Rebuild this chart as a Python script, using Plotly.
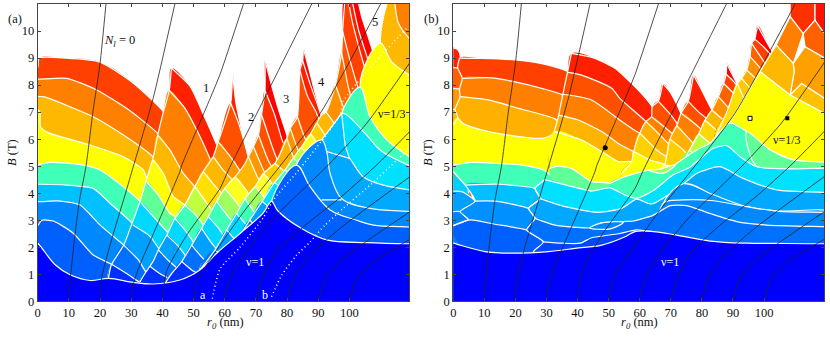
import plotly.graph_objects as go

# colour levels used by the bands
BLUE = "#0000ff"
C30, C48, C60, C70, C88, CA0, CA8 = "#0030ff", "#0048ff", "#0060ff", "#0070ff", "#0088ff", "#00a0ff", "#00a8ff"
CC0, CD8, CE0 = "#00c0ff", "#00d8ff", "#00e0ff"
TEAL, GREEN, LIME, YLIME = "#40ffb8", "#60ff98", "#a0ff60", "#c0ff40"
YEL, YEL2, AMB0, AMB, AMB2 = "#ffff00", "#ffe000", "#ffd000", "#ffb800", "#ff9800"
ORG, ORG2, RED4, RED3, RED2, RED1 = "#ff8000", "#ff6000", "#ff4000", "#ff3000", "#ff2000", "#ff0000"

# Landau level lines N_l, same in both panels (r0 nm, B T)
NL_10 = [(10, 0), (10.2, 0.5), (10.6, 1), (12, 2.5), (13.5, 3.8), (15.5, 5), (17.7, 7), (20, 8.8), (21.9, 11)]
NL_20 = [(20, 0), (20.5, 0.85), (23.5, 2.2), (28, 3.93), (30.7, 5), (37, 7.5), (44, 11)]
NL_30 = [(30, 0), (30.6, 0.6), (32.8, 1.35), (37, 2.47), (45.6, 4.8), (46.1, 5), (55.3, 7.5), (58.5, 8.4), (66, 11)]
NL_40 = [(40, 0), (41.3, 1.1), (47.8, 2.45), (58.5, 4.18), (61.2, 4.86), (74, 7.8), (87.9, 11)]
NL_50 = [(50, 0), (51, 0.73), (54.2, 1.35), (58.5, 2.08), (66, 3.3), (77.7, 5), (90.6, 6.95), (110, 11)]
NL_60 = [(59.8, 0), (61.7, 0.85), (66, 1.71), (75.6, 3.07), (93.2, 5.04), (105.5, 6.58), (119.5, 8.85)]
NL_70 = [(70, 0), (71.9, 0.85), (76.7, 1.84), (85.7, 2.8), (98, 3.93), (108.7, 5.04), (119.5, 6.3)]
NL_80 = [(80, 0), (82, 0.85), (87.4, 1.71), (97, 2.7), (119.5, 4.62)]
NL_90 = [(90, 0), (92.2, 0.85), (98, 1.59), (119.5, 3.32)]
NL_100 = [(100, 0), (102.3, 0.85), (107.6, 1.46), (119.5, 2.3)]
NL_LINES = [NL_10, NL_20, NL_30, NL_40, NL_50, NL_60, NL_70, NL_80, NL_90, NL_100]

DOTS_A = [(56, 0.1), (58.5, 1.2), (64.9, 2), (72.4, 3.1), (75.6, 3.75), (84.2, 4.92), (97, 6.9), (98, 7.4),
          (105.5, 8.5), (118.3, 10.1)]
DOTS_B = [(75, 0.17), (78.3, 0.97), (83, 1.7), (87.4, 2.2), (92, 2.8), (98, 3.44), (106.6, 4.3), (115, 5.2),
          (119.5, 5.7)]

# panel (a), lobes left to right: edge = left border, curves = top of each band
A_L0_EDGE = [(-2, 12), (-2, -1)]
A_L0_COLORS = [RED4, ORG, AMB, YEL, TEAL, CC0, C88, C60]
A_L0_CURVES = [
    [(-1, 8.6), (0, 8.65), (0.5, 9), (9, 9), (20, 8.85), (30.7, 8.07), (40.3, 7.02), (43, 6.5)],
    [(-1, 8.22), (0.7, 8.22), (9.3, 8.25), (18.9, 7.82), (28.5, 7.14), (38.4, 6.22), (42, 5.6)],
    [(-1, 7.57), (1.8, 7.57), (10.3, 7.2), (17.8, 6.83), (27.5, 6.15), (36.9, 5.35), (38, 5.1)],
    [(-1, 7.2), (0.7, 7), (0.9, 6.46), (3.4, 6.24), (16.8, 5.78), (27.5, 5.35), (33.9, 4.86), (35, 4.55), (37, 4.2)],
    [(-1, 5), (0, 5.04), (3.9, 5.14), (14.6, 5.04), (20, 4.86), (25.3, 4.43), (32.8, 3.69), (35, 3.3)],
    [(-1, 4.33), (1.3, 4.33), (9.3, 4.3), (17.8, 4.18), (23.2, 3.63), (30.7, 2.85), (33, 2.5)],
    [(-1, 3.69), (1.3, 3.69), (7.1, 3.71), (13.6, 3.56), (20, 2.82), (27.6, 2.08), (30, 1.8)],
    [(-1, 2.8), (0, 2.8), (1.3, 3), (5, 2.97), (11.4, 2.52), (17.8, 1.71), (23.7, 1.37), (26, 1.2)],
]

A_L1_EDGE = [(42.9, 8.63), (42.2, 7.8), (40.3, 7), (38.5, 6.15), (37, 5.3), (35, 4.55), (32.8, 3.69), (30, 2.8),
             (27.6, 2.08), (23.6, 1.34), (22.7, 0.85)]
A_L1_COLORS = [RED2, ORG, AMB, YEL, GREEN, CD8, CA0, C70, C30]
A_L1_CURVES = [
    [(42.9, 8.63), (48.9, 7.95), (53, 6.96), (57.4, 5.79), (60, 5)],
    [(42.2, 7.8), (47.2, 7.15), (51.2, 6.3), (55, 5.35), (57, 4.8)],
    [(38.5, 6.15), (42.4, 5.6), (46.7, 4.73), (50.4, 4.24), (52, 3.9)],
    [(37, 5.23), (40.3, 4.73), (43.5, 3.87), (47.2, 3.56), (49, 3.2)],
    [(34.9, 4.43), (38.7, 3.93), (42.4, 3.25), (45.1, 3.07), (47, 2.7)],
    [(33.3, 3.62), (38.1, 3), (41.9, 2.52), (44.6, 2)],
    [(30.5, 2.82), (36, 2.4), (40, 1.75), (43, 1.3)],
    [(27.6, 2.08), (32.3, 1.53), (35, 1.03), (36.5, 0.9)],
    [(23.7, 1.37), (28.5, 1.03), (32.3, 0.73), (35, 0.6)],
]

A_L2_EDGE = [(62.5, 8.49), (61.9, 7.33), (57.9, 5.9), (56.3, 5.35), (53.1, 4.8), (50.4, 4.24), (47.2, 3.56), (44, 3.07),
             (41.4, 2.45), (38.7, 1.9), (37, 1.47), (34.4, 1.03), (32.8, 0.72)]
A_L2_COLORS = [RED2, "#ff5000", AMB2, AMB, YEL2, YLIME, TEAL, CD8, CA0, C70, C30]
A_L2_CURVES = [
    [(62.5, 8.49), (63.6, 7.33), (65.5, 6.3), (67.2, 5.41), (68, 5)],
    [(61.9, 7.33), (64.4, 6.6), (66.8, 5.66), (68, 5.1)],
    [(57.9, 5.9), (61.5, 5.4), (64.5, 4.9), (66, 4.6)],
    [(56.3, 5.35), (59.5, 4.85), (62.8, 4.45), (64, 4.1)],
    [(53.1, 4.8), (57, 4.25), (60, 3.85), (61, 3.6)],
    [(50.4, 4.24), (53.5, 3.75), (56.9, 3.2), (58, 3)],
    [(47.2, 3.56), (51, 3.15), (54, 2.65), (55, 2.4)],
    [(44, 3.07), (47.5, 2.6), (50.5, 2.1), (52, 1.9)],
    [(41.4, 2.45), (45, 2.05), (48, 1.6), (50, 1.35)],
    [(38.7, 1.9), (42, 1.5), (45, 1.2), (47, 1)],
    [(36, 1.3), (39.5, 1), (43, 0.8)],
]

A_L3_EDGE = [(72.9, 8.92), (72.9, 7.8), (71.8, 6.9), (70.8, 6.15), (69.2, 5.72), (67.6, 5.35), (66.5, 5.1), (63.3, 4.6),
             (60, 4.18), (57.4, 3.7), (54.7, 3.13), (52.6, 2.7), (49.4, 2.08), (46.2, 1.47), (43, 1.03), (40.8, 0.65)]
A_L3_COLORS = [RED1, RED3, "#ff5000", "#ff7000", AMB2, AMB, "#ffff20", LIME, TEAL, CD8, CA0, C70, C30]
A_L3_CURVES = [
    [(72.9, 8.92), (75, 8), (77.5, 7), (79.9, 6.15), (81, 5.6)],
    [(72.9, 7.8), (76, 6.9), (78.3, 6), (80.5, 5.4)],
    [(71.8, 6.9), (75.6, 5.6), (78, 4.9)],
    [(70.8, 6.15), (74, 5.2), (77, 4.6)],
    [(69.2, 5.72), (72.4, 4.86), (75, 4.3)],
    [(67.6, 5.35), (70.5, 4.6), (72.5, 4.2)],
    [(63.3, 4.6), (67, 4.1), (69.5, 3.6)],
    [(60, 4.18), (63.5, 3.7), (66, 3.3)],
    [(57.4, 3.7), (61, 3.15), (63.5, 2.8)],
    [(54.7, 3.13), (58, 2.7), (61, 2.2)],
    [(52.6, 2.7), (55.5, 2.2), (58, 1.85)],
    [(49.4, 2.08), (52.5, 1.65), (55, 1.35)],
    [(46.2, 1.47), (49.5, 1.15), (52, 1)],
]

A_L4_EDGE = [(85.2, 9.36), (85, 8.9), (84.1, 8.55), (83.3, 6.83), (81, 6.4), (79.9, 6.03), (76.1, 5.1), (72.4, 4.73),
             (69.7, 4.24), (66.5, 3.8), (63.8, 3.25), (60.6, 2.64), (56.9, 1.9), (52, 1.16)]
A_L4_COLORS = [RED1, RED2, "#ff5000", "#ff7000", "#ff9000", "#ffb000", AMB0, "#ffff30", LIME, TEAL, CD8, CA0, C70]
A_L4_CURVES = [
    [(85.2, 9.36), (87, 8.6), (89, 7.7), (91.1, 6.9), (93, 6.3)],
    [(85, 8.9), (87.5, 8), (90, 7.2), (92.5, 6.3)],
    [(84.1, 8.55), (86.5, 7.6), (89.5, 6.95), (92, 6)],
    [(83.3, 6.83), (85.5, 6.1), (87.5, 5.6)],
    [(81, 6.4), (83.5, 5.6), (85.5, 5.1)],
    [(79.9, 6.03), (82.5, 5.2), (84.5, 4.8)],
    [(76.1, 5.1), (80, 4.7), (81.5, 4.3)],
    [(72.4, 4.73), (76, 4.25), (78, 3.9)],
    [(69.7, 4.24), (73, 3.8), (75, 3.5)],
    [(66.5, 3.8), (69.5, 3.3), (71.5, 3.05)],
    [(63.8, 3.25), (67, 2.8), (69, 2.5)],
    [(60.6, 2.64), (63.5, 2.25), (66, 2)],
    [(56.9, 1.9), (60, 1.65), (63, 1.5)],
]

A_L5_EDGE = [(98.6, 11.2), (97.8, 10), (97.5, 9.2), (95.5, 8), (92.5, 7), (91.1, 6.9), (89.5, 6.6), (87.5, 6.2),
             (84.5, 5.7), (82, 5.3), (79.3, 4.86), (76, 4.4), (72, 3.7), (68, 3), (64, 2.3), (60, 1.7)]
A_L5_COLORS = [RED1, RED2, RED4, "#ff5800", "#ff7000", "#ff9000", AMB, AMB0, "#ffff20", YLIME, "#80ff80", TEAL, CE0,
               CA0, C70]
A_L5_CURVES = [
    [(98.6, 11.2), (102.2, 11.2), (104, 10.5), (107.6, 9.2), (109, 8.5)],
    [(100.7, 11.2), (103, 10), (105.5, 9.1), (108, 8.2)],
    [(99.5, 11.2), (101, 10.3), (103.5, 9.2), (106, 8.2)],
    [(97.8, 10), (100, 9), (102.5, 8), (104, 7.5)],
    [(97.5, 9.2), (99.5, 8), (101, 7.3)],
    [(95.5, 8), (98, 7.2), (100, 6.6)],
    [(92.5, 7), (95, 6.6), (97, 6)],
    [(89.5, 6.6), (93, 6), (95, 5.5)],
    [(87.5, 6.2), (91, 5.6), (93, 5.1)],
    [(84.5, 5.7), (88, 5.2), (91, 4.7)],
    [(82, 5.3), (85.5, 4.9), (88, 4.3)],
    [(79.3, 4.86), (83, 4.5), (86, 4)],
    [(76, 4.4), (80, 4), (83, 3.5)],
    [(72, 3.7), (76, 3.3), (80, 2.8)],
    [(68, 3), (72, 2.6), (76, 2.2)],
]

# panel (a), right side regions, painted in this order
A_R_ORANGE = [(114, 11.2), (122, 11.2), (122, 8), (113, 9)]
A_R_AMBER = [(113, 11.2), (114, 11.2), (115.7, 10.3), (119.2, 9.73), (122, 9.45), (122, 8), (113.5, 8.6), (110, 9.55)]
A_R_YELLOW = [(110, 9.55), (113.5, 8.87), (119.2, 8.37), (122, 8.15), (122, 4), (103.4, 7.92)]
A_R_TEAL = [(97.5, 6.95), (103.4, 7.92), (106.6, 6.83), (112, 5.97), (119.2, 5.35), (122, 5.15), (122, 4), (97.5, 5.5)]
A_R_CYAN = [(97.5, 6.95), (105.5, 6.15), (109.8, 5.6), (119.2, 5.02), (122, 4.9), (122, 3), (97, 3)]
A_R_A8 = [(92.7, 5.54), (99.1, 5.35), (100, 5.29), (104.5, 4.6), (110.9, 4.3), (119.2, 4.12), (122, 4.05), (122, 2.5),
          (93, 2.5)]
A_R_C0 = [(91.1, 5.97), (97.5, 6.95), (98.6, 5.78), (100, 5.29), (92.7, 5.54)]
A_R_88 = [(83, 5.04), (91.1, 5.97), (92.7, 5.54), (93.8, 4.73), (97.5, 3.8), (106.6, 3.44), (119.2, 3.32), (122, 3.28),
          (122, 1.5), (83, 1.5)]
A_R_INNER = [(91.1, 3.75), (97.5, 3.75)]
A_R_60 = [(75, 3.7), (83, 5.04), (87.4, 4.24), (93.8, 3.38), (102.3, 3), (107.7, 2.82), (119.2, 2.75), (122, 2.73),
          (122, 1.5), (75, 1.5)]
A_BLUE = [(-2, 2.3), (0, 2.15), (5.6, 1.35), (10.4, 0.98), (16.8, 0.77), (22.7, 0.85), (30.7, 0.7), (37, 0.64),
          (45.6, 0.79), (52, 1.16), (57.4, 1.78), (65, 2.52), (72.3, 3.26), (75, 3.7), (77, 3.35), (84.5, 2.7),
          (92.7, 2.27), (105.5, 2.17), (119.2, 2.13), (122, 2.13), (122, -1), (-2, -1)]

# panel (b), None marks a gap in the white border
B_L0_EDGE = [(-2, 12), (-2, -1)]
B_L0_COLORS = [RED2, ORG2, AMB2, "#ffc000", "#00d0ff", CA0, "#0080ff"]
B_L0_CURVES = [
    [(-2, 9.35), (1, 9.35), (2, 9.2), (2.5, 8.8)],
    [(-2, 8.63), (1.4, 8.63), (3, 8.4)],
    [(-2, 7.85), (2, 7.85), (3, 7.6)],
    [(-2, 7.1), (0.55, 7.1), (2, 6.9)],
    [(-2, 4.8), (0, 4.8), (3.8, 4.4), (5, 4)],
    [(-2, 4.06), (2.7, 4.06), (7, 3.71), (8, 3.4)],
    [(-2, 3.29), (2.2, 3.32), (4.8, 3.03), (6, 2.9)],
]

B_L1_EDGE = [(2, 9), (1.4, 8.65), (2.9, 8.25), (2, 7.85), (2.15, 7.55), (0.55, 7.1), (1.4, 6.8), (-1, 6.4), None,
             (0, 4.8), (3.8, 4.3), (7, 3.71), (2.2, 3.32), (4.8, 3.03), (0, 2.8), (-1, 2.7)]
B_L1_COLORS = [RED4, ORG, "#ffb000", YEL, TEAL, CC0, "#0090ff", C60]
B_L1_CURVES = [
    [(2, 9), (9.1, 8.99), (19.9, 8.93), (30.6, 8.74), (36.8, 8.5), (40, 8.2)],
    [(2.9, 8.25), (12.35, 8.27), (19.9, 8.12), (28.4, 7.88), (35.2, 7.63), (38, 7.3)],
    [(2.15, 7.57), (11.3, 7.45), (21, 7.14), (32.7, 6.75), (36, 6.4)],
    [(1.4, 6.8), (3.2, 6.58), (9.1, 6.34), (17.7, 6.15), (28.4, 6.03), (31.7, 6.15), (32.5, 6.28), (34.5, 6.1)],
    [(0, 5.04), (5.9, 5.14), (14.5, 5.1), (22, 5.04), (29, 4.86), (32, 4.6)],
    [(3.8, 4.3), (14.5, 4.33), (26.3, 4.18), (30, 3.9)],
    [(7, 3.71), (14, 3.7), (24.2, 3.44), (28, 3.2)],
    [(0, 2.8), (5.4, 3.01), (13.4, 2.85), (23.6, 2.64), (28, 2.3)],
]

B_L2_EDGE = [(38, 9.17), (36.8, 8.5), (35.2, 7.63), (33.8, 6.83), (32.5, 6.28), None, (31.1, 4.92)]
B_L2_COLORS = [RED2, "#ff5000", ORG, "#ffb400", YEL, GREEN]
B_L2_CURVES = [
    [(38, 9.17), (45.6, 8.99), (52, 8.62), (59, 7.88), (64, 7.2), (66, 6.7)],
    [(36.8, 8.47), (41.3, 8.37), (51, 7.88), (53.65, 7.5), (62, 6.65), (64, 6.3)],
    [(35.2, 7.66), (44.5, 7.45), (53.65, 6.7), (59, 6.28), (60, 6.22), (62, 6)],
    [(33.8, 6.89), (40.2, 6.71), (47.8, 6.28), (53.65, 5.8), (58, 5.54), (60, 5.3)],
    [(32.5, 6.28), (41.3, 5.97), (48.8, 5.47), (53.1, 5.17), (57.4, 5.17), (59, 5)],
    [(31.1, 4.92), (33.8, 5), (38, 4.92), (44.5, 4.43), (50.4, 4.36), (52, 3.9)],
]

B_L3_EDGE = [(67.4, 8.06), (66, 7.4), (64, 7.2), (63.8, 6.83), (62, 6.65), (60, 6.22), (58, 5.54), (57.4, 5.17),
             (54, 4.7)]
B_L3_COLORS = [RED2, "#ff5000", ORG, "#ffb000", AMB0, YEL]
B_L3_CURVES = [
    [(67.4, 8.06), (70, 7.7), (73.3, 6.95), (75, 6.5)],
    [(66, 7.4), (70, 6.9), (71.9, 6.6), (74, 6.2)],
    [(63.8, 6.83), (69.7, 6.28), (72.4, 5.97), (74, 5.7)],
    [(62, 6.65), (67.6, 6.03), (71.4, 5.54), (73, 5.3)],
    [(60, 6.22), (65.5, 5.6), (69.2, 5.29), (72, 5)],
    [(58, 5.54), (63.3, 5.23), (68.1, 5.05), (70, 4.7)],
]

B_L4_EDGE = [(77.3, 8.37), (75.6, 7.4), (73.3, 6.96), (71.9, 6.5), (69.7, 6), (68, 5.05), (66, 4.8)]
B_L4_COLORS = [RED2, "#ff5000", ORG, "#ffb000", AMB0, YEL]
B_L4_CURVES = [
    [(77.3, 8.37), (80, 7.8), (83.2, 7.08), (85, 6.7)],
    [(75.6, 7.4), (79, 7), (82, 6.7), (84, 6.2)],
    [(73.3, 6.96), (79.4, 6.4), (82, 5.9)],
    [(71.9, 6.5), (76, 6), (79, 5.6)],
    [(69.7, 6), (74, 5.6), (77, 5.2)],
    [(68, 5.05), (72, 4.95), (76, 4.7)],
]

B_L5_EDGE = [(88, 8.8), (87.8, 8.4), (87, 8.06), (85.3, 7.57), (83.2, 7.08), (81, 6.7), (79, 6.2), (76, 5.6), (72, 4.7)]
B_L5_COLORS = [RED1, RED4, ORG2, "#ff9000", AMB, "#ffd800", YLIME, "#80ff60"]
B_L5_CURVES = [
    [(88, 8.8), (91.4, 8.04), (93, 7.8)],
    [(87.8, 8.4), (90.7, 8.07), (93, 7.6)],
    [(87, 8.06), (91, 7.6), (94, 7.2)],
    [(85.3, 7.57), (89, 7.1), (92, 6.7)],
    [(83.2, 7.08), (87, 6.7), (90, 6.4)],
    [(81, 6.7), (85, 6.3), (88, 6)],
    [(79, 6.2), (83, 5.8), (86, 5.5)],
    [(76, 5.6), (80, 5.2), (83, 5)],
]

B_L6_EDGE = [(97.9, 10.2), (97, 9.7), (96, 9.54), (95.5, 9.05), (94.4, 8.56), (92.8, 8.25), (91.4, 8.06), (88, 7),
             (84, 6)]
B_L6_COLORS = [RED1, RED4, ORG2, "#ff9000", "#ffb000", "#ffc800", YEL2]
B_L6_CURVES = [
    [(97.9, 10.2), (102, 9.36), (104, 9)],
    [(97, 9.7), (100, 9.4), (103, 9)],
    [(96, 9.54), (100, 8.86), (102, 8.5)],
    [(95.5, 9.05), (99.25, 8.56), (101, 8.2)],
    [(94.4, 8.56), (97.65, 8.2), (100, 7.8)],
    [(92.8, 8.25), (96, 7.8), (98, 7.4)],
    [(91.4, 8.06), (94, 7.4), (96, 7)],
]

B_R_T2 = [(108.4, 11.2), (108.4, 10.53), (112.6, 9.9), (116.4, 10.4), (116.4, 11.2)]
B_R_T3 = [(116.4, 11.2), (116.4, 10.4), (119, 9.97), (122, 9.8), (122, 11.2)]
B_R_T4 = [(112.6, 9.9), (116.4, 10.4), (119, 9.97), (122, 9.8), (122, 8.8), (119.6, 8.99), (113.2, 9.42)]
B_R_T5 = [(109.4, 8.8), (113.2, 9.42), (119.6, 8.99), (122, 8.8), (122, 7.2), (119.6, 7.5), (112.1, 8.06), (108.4, 7.63),
          (109.7, 8.5)]
B_R_T1 = [(103.9, 9.48), (108.4, 10.53), (112.6, 9.9), (109.4, 8.8)]
B_R_AMB = [(98.7, 8.5), (103.9, 9.48), (109.4, 8.8), (109.7, 8.5), (108.4, 7.63)]
B_R_AMB2 = [(108.4, 7.63), (112.1, 8.06), (119.6, 7.5), (122, 7.2), (122, 6.8), (119.3, 6.95)]
B_R_YEL = [(89, 6.65), (98.7, 8.5), (108.4, 7.63), (119.3, 6.95), (122, 6.8), (122, 4), (89, 4)]

B_TEAL_EDGE = [(50.4, 3)]
B_TEAL_CURVE = [(50.4, 4.36), (55, 4.6), (59, 4.74), (62.8, 4.85), (68.7, 4.86), (71.9, 5.1), (78.3, 5.6), (82.6, 5.85),
                (89, 6.6), (95.5, 6.2), (102, 5.6), (109.4, 5.23), (119.3, 5.1), (122, 5.08)]
B_TILE_LIME = [(62.8, 4.86), (66, 4.88), (71.4, 5.05), (67.6, 4.74)]
B_TILE_GREEN = [(94.4, 6.27), (102, 5.6), (109.4, 5.23), (122, 5.08), (122, 4.9), (107.3, 4.9), (97.6, 5)]

B_LOW_EDGE = [(29.5, 4.5), (26.3, 4.18), (27.9, 3.8), (24.2, 3.44), (26.3, 3.07), (23.6, 2.64), (29, 2.2), (26, 1.86),
              (25, 1.5)]
B_LOW_COLORS = [CE0, CA8, C70, C48]
B_LOW_CURVES = [
    [(29.5, 4.5), (37, 4.28), (44.5, 4.08), (50.4, 4.2), (55.3, 3.93), (59, 3.81), (64.4, 4.1), (70.8, 4.68), (76, 4.95),
     (83.7, 5.66), (88, 5.76), (92.3, 5.35), (97.6, 4.98), (107.3, 4.9), (119.3, 4.93), (122, 4.93)],
    [(27.9, 3.8), (36, 3.5), (46.7, 3.29), (54.2, 3.44), (59, 3.78), (63.8, 3.6), (73, 4.24), (78.3, 4.73), (85.8, 4.98),
     (93.3, 4.55), (104, 4.12), (119.3, 4.03), (122, 4.02)],
    [(26.3, 3.07), (32.7, 2.82), (44, 2.72), (47.8, 2.9), (54.7, 2.95), (58, 2.97), (64.4, 3.19), (69.8, 3.54),
     (75.1, 3.54), (82.6, 3.25), (91.2, 2.95), (100.9, 2.82), (119.3, 2.76), (122, 2.75)],
    [(29, 2.2), (34.9, 2.15), (40.9, 2.15), (44.5, 2.35), (53.1, 2.5), (59, 2.64), (64, 2.58)],
]
B_MID_A = [(67.6, 3.63), (74, 4.35), (83.7, 3.94), (94.4, 3.5), (104, 3.34), (122, 3.28), (122, 2.8), (67.6, 2.8)]
B_MID_B = [(67.6, 3.63), (74, 3.75), (83.7, 3.72), (94.4, 3.5), (104, 3.34), (119.3, 3.29), (122, 3.28), (122, 2.5),
           (67.6, 2.5)]
B_LENS = [(44, 2.72), (47.8, 2.9), (54.7, 2.92), (50.5, 2.68)]
B_BLUE = [(-2, 2.2), (0, 2.15), (10.2, 1.84), (18.8, 1.78), (30.6, 1.84), (39.2, 1.96), (47.8, 2.08), (55.3, 2.39),
          (58.5, 2.58), (64.4, 2.58), (71.9, 2.45), (82.6, 2.23), (94.4, 2.15), (105, 2.14), (114, 2.13), (119.3, 2.13),
          (122, 2.13), (122, -1), (-2, -1)]

# markers in panel (b)
DOT_R, DOT_B = [48.9], [5.68]
OPEN_R, OPEN_B = [95.5], [6.77]
SQUARE_R, SQUARE_B = [107.5], [6.77]

FONT = "Liberation Serif"
WIDTH, HEIGHT = 830, 338

fig = go.Figure()


def add_line(pts, axes, color="white", width=1.2, dash=None):
    xs = [p[0] if p else None for p in pts]
    ys = [p[1] if p else None for p in pts]
    fig.add_trace(go.Scatter(x=xs, y=ys, mode="lines", xaxis=axes[0], yaxis=axes[1], hoverinfo="skip",
                             line=dict(color=color, width=width, dash=dash, shape="spline", smoothing=0.6)))


def add_fill(pts, color, axes, outline=True, shape="spline"):
    xs = [p[0] for p in pts] + [pts[0][0]]
    ys = [p[1] for p in pts] + [pts[0][1]]
    fig.add_trace(go.Scatter(x=xs, y=ys, mode="lines", fill="toself", fillcolor=color, xaxis=axes[0], yaxis=axes[1],
                             hoverinfo="skip",
                             line=dict(color="white", width=1.2 if outline else 0, shape=shape)))


def add_stack(edge, curves, colors, axes):
    """Bands of one lobe: each band is filled from its top curve down, later ones paint over"""
    solid = [p for p in edge if p]
    for curve, color in zip(curves, colors):
        below = [p for p in solid if p[1] < curve[0][1]]
        poly = curve + [(curve[-1][0], -1)] + below[::-1]
        add_fill(poly, color, axes, outline=False)
        add_line(curve, axes)
    add_line(edge, axes)


def add_panel_lines(axes):
    for nl in NL_LINES:
        add_line(nl, axes, color="#222222", width=0.8)


AX_A = ("x", "y")
AX_B = ("x2", "y2")

# panel (a)
add_stack(A_L0_EDGE, A_L0_CURVES, A_L0_COLORS, AX_A)
add_stack(A_L1_EDGE, A_L1_CURVES, A_L1_COLORS, AX_A)
add_stack(A_L2_EDGE, A_L2_CURVES, A_L2_COLORS, AX_A)
add_stack(A_L3_EDGE, A_L3_CURVES, A_L3_COLORS, AX_A)
add_stack(A_L4_EDGE, A_L4_CURVES, A_L4_COLORS, AX_A)
add_stack(A_L5_EDGE, A_L5_CURVES, A_L5_COLORS, AX_A)
for poly, color in [(A_R_ORANGE, ORG), (A_R_AMBER, AMB), (A_R_YELLOW, YEL), (A_R_TEAL, TEAL), (A_R_CYAN, CE0),
                    (A_R_A8, CA8)]:
    add_fill(poly, color, AX_A)
add_fill(A_R_C0, CC0, AX_A, shape="linear")
add_fill(A_R_88, C88, AX_A)
add_line(A_R_INNER, AX_A)
add_fill(A_R_60, C60, AX_A)
add_fill(A_BLUE, BLUE, AX_A)
add_line(DOTS_A, AX_A, width=1.5, dash="1px 3px")
add_line(DOTS_B, AX_A, width=1.5, dash="1px 3px")
add_panel_lines(AX_A)

# panel (b)
add_stack(B_L0_EDGE, B_L0_CURVES, B_L0_COLORS, AX_B)
add_stack(B_L1_EDGE, B_L1_CURVES, B_L1_COLORS, AX_B)
add_stack(B_L2_EDGE, B_L2_CURVES, B_L2_COLORS, AX_B)
add_stack(B_L3_EDGE, B_L3_CURVES, B_L3_COLORS, AX_B)
add_stack(B_L4_EDGE, B_L4_CURVES, B_L4_COLORS, AX_B)
add_stack(B_L5_EDGE, B_L5_CURVES, B_L5_COLORS, AX_B)
add_stack(B_L6_EDGE, B_L6_CURVES, B_L6_COLORS, AX_B)
for poly, color in [(B_R_T2, RED3), (B_R_T3, "#ff1000"), (B_R_T4, ORG2), (B_R_T5, "#ffa000"), (B_R_T1, ORG),
                    (B_R_AMB, AMB), (B_R_AMB2, "#ffc000"), (B_R_YEL, YEL)]:
    add_fill(poly, color, AX_B, shape="linear")
add_stack(B_TEAL_EDGE, [B_TEAL_CURVE], [TEAL], AX_B)
add_fill(B_TILE_LIME, LIME, AX_B)
add_fill(B_TILE_GREEN, GREEN, AX_B)
add_stack(B_LOW_EDGE, B_LOW_CURVES[:2], B_LOW_COLORS[:2], AX_B)
add_fill(B_MID_A, "#0098ff", AX_B)
add_fill(B_MID_B, C88, AX_B)
add_stack(B_LOW_EDGE, B_LOW_CURVES[2:], B_LOW_COLORS[2:], AX_B)
add_fill(B_LENS, C88, AX_B)
add_fill(B_BLUE, BLUE, AX_B)
add_panel_lines(AX_B)

fig.add_trace(go.Scatter(x=DOT_R, y=DOT_B, mode="markers", xaxis="x2", yaxis="y2", hoverinfo="skip",
                         marker=dict(color="black", size=5, symbol="circle")))
fig.add_trace(go.Scatter(x=SQUARE_R, y=SQUARE_B, mode="markers", xaxis="x2", yaxis="y2", hoverinfo="skip",
                         marker=dict(color="black", size=4, symbol="square")))
fig.add_trace(go.Scatter(x=OPEN_R, y=OPEN_B, mode="markers", xaxis="x2", yaxis="y2", hoverinfo="skip",
                         marker=dict(color="white", size=4, symbol="square", line=dict(color="black", width=1))))


def x_axis(px0, px1, xmax, anchor):
    return dict(domain=[px0 / WIDTH, px1 / WIDTH], range=[0, xmax], anchor=anchor, automargin=False,
                tickvals=list(range(0, 101, 10)), ticks="inside", ticklen=3, tickcolor="#444444", tickwidth=1,
                showline=True, linecolor="#444444", linewidth=1, mirror="ticks", showgrid=False, zeroline=False,
                tickfont=dict(family=FONT, size=12.5, color="#111111"))


def y_axis(anchor):
    return dict(domain=[1 - 301.3 / HEIGHT, 1 - 4 / HEIGHT], range=[0, 11], anchor=anchor, automargin=False,
                tickvals=list(range(0, 11)), ticks="inside", ticklen=3, tickcolor="#444444", tickwidth=1,
                showline=True, linecolor="#444444", linewidth=1, mirror="ticks", showgrid=False, zeroline=False,
                tickfont=dict(family=FONT, size=12.5, color="#111111"))


fig.update_layout(
    width=WIDTH, height=HEIGHT, margin=dict(l=0, r=0, t=0, b=0), autosize=False,
    paper_bgcolor="white", plot_bgcolor="white", showlegend=False,
    xaxis=x_axis(37.7, 409.3, 119.2, "y"), yaxis=y_axis("x"),
    xaxis2=x_axis(453.3, 824, 119.3, "y2"), yaxis2=y_axis("x2"),
)


def label(px, py, text, color="#111111", size=12.5, angle=0):
    fig.add_annotation(x=px / WIDTH, y=1 - py / HEIGHT, xref="paper", yref="paper", text=text, showarrow=False,
                       textangle=angle, xanchor="center", yanchor="middle",
                       font=dict(family=FONT, size=size, color=color))


R0 = "<i>r</i><sub><i>0</i></sub> (nm)"
label(15, 19, "(a)")
label(431, 19, "(b)")
label(12, 153, "<i>B</i> (T)", angle=-90)
label(428, 153, "<i>B</i> (T)", angle=-90)
label(225, 323, R0)
label(639, 323, R0)
label(119, 41, "<i>N</i><sub><i>l</i></sub> = 0")
label(206, 88, "1")
label(250.7, 116.7, "2")
label(286, 99, "3")
label(321, 82.3, "4")
label(375, 22, "5")
label(392, 113.5, "ν=1/3", size=12)
label(255, 262, "ν=1", color="white", size=12)
label(203, 295, "a", color="white", size=12)
label(265, 295, "b", color="white", size=12)
label(670, 262, "ν=1", color="white", size=12)
label(787, 140, "ν=1/3", size=12)

# the default body margin would push the figure 8px off the window
fig.write_html("out.html", config={"displayModeBar": False}, post_script="document.body.style.margin = '0';")
